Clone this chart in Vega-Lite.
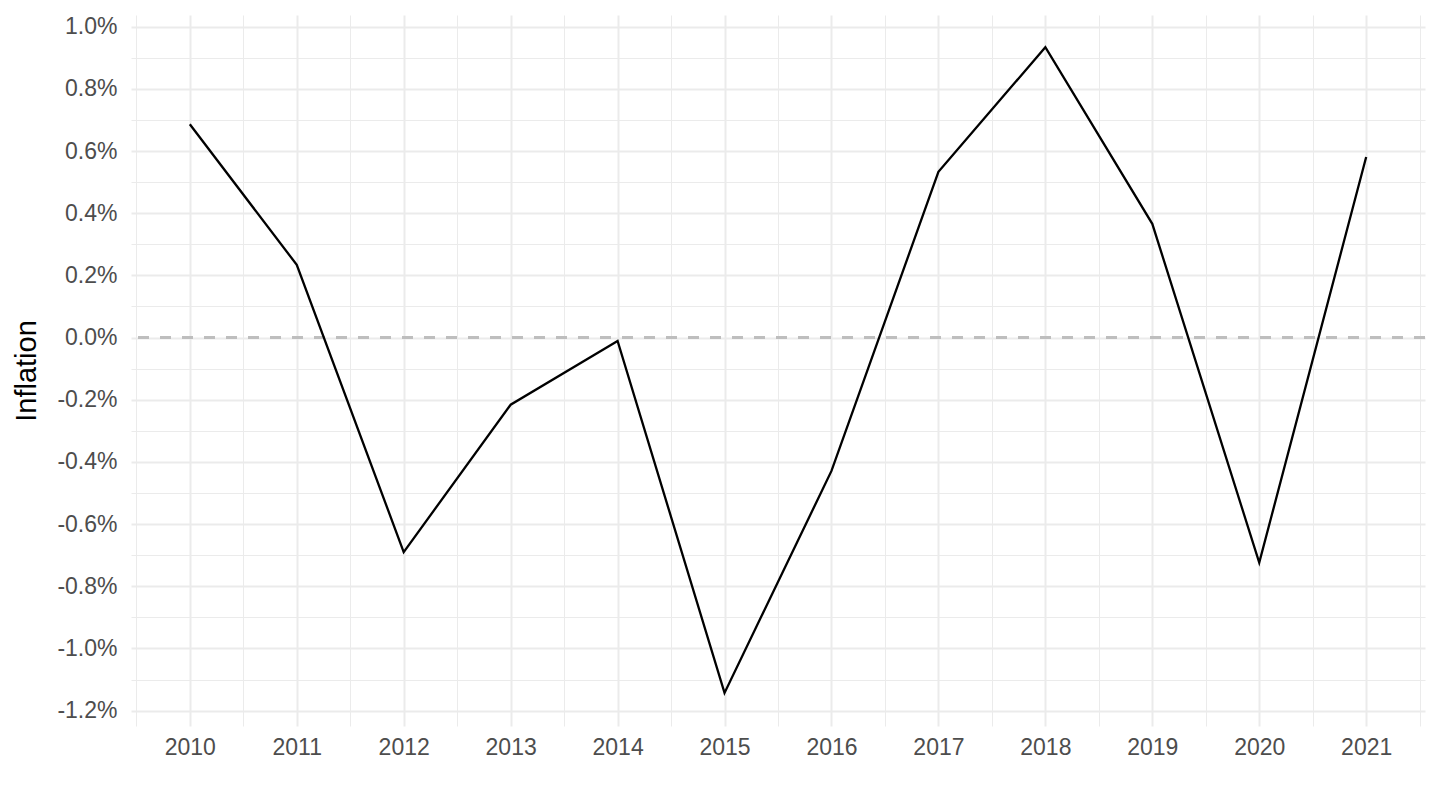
{
  "$schema": "https://vega.github.io/schema/vega-lite/v6.json",
  "width": 1294,
  "height": 711,
  "autosize": {"type": "none"},
  "padding": {"left": 131, "top": 15, "right": 15, "bottom": 84},
  "background": "white",
  "config": {
    "view": {"stroke": null},
    "font": "Liberation Sans",
    "axis": {
      "domain": false,
      "ticks": false,
      "grid": true,
      "gridColor": "#ebebeb",
      "labelColor": "#4d4d4d",
      "labelFont": "Liberation Sans",
      "labelFontSize": 23,
      "titleFont": "Liberation Sans",
      "titleFontWeight": "normal",
      "titleColor": "#000000",
      "titleFontSize": 29,
      "labelOverlap": false,
      "labelFlush": false
    }
  },
  "data": {
    "values": [
      {"year": 2010, "inflation": 0.686},
      {"year": 2011, "inflation": 0.234},
      {"year": 2012, "inflation": -0.690},
      {"year": 2013, "inflation": -0.216},
      {"year": 2014, "inflation": -0.011},
      {"year": 2015, "inflation": -1.143},
      {"year": 2016, "inflation": -0.429},
      {"year": 2017, "inflation": 0.533},
      {"year": 2018, "inflation": 0.934},
      {"year": 2019, "inflation": 0.366},
      {"year": 2020, "inflation": -0.724},
      {"year": 2021, "inflation": 0.581}
    ]
  },
  "layer": [
    {
      "mark": {"type": "rule", "color": "#bebebe", "strokeWidth": 2.7, "strokeDash": [11, 11]},
      "encoding": {
        "y": {
          "datum": 0,
          "type": "quantitative",
          "axis": {
            "title": "Inflation",
            "grid": true,
            "values": [-1.2, -1.1, -1.0, -0.9, -0.8, -0.7, -0.6, -0.5, -0.4, -0.3, -0.2, -0.1, 0, 0.1, 0.2, 0.3, 0.4, 0.5, 0.6, 0.7, 0.8, 0.9, 1.0],
            "labelExpr": "abs(round(datum.value * 10)) % 2 == 1 ? '' : replace(format(datum.value, '.1f'), '\u2212', '-') + '%'",
            "gridWidth": {"condition": {"test": "abs(round(datum.value * 10)) % 2 == 1", "value": 1}, "value": 2},
            "labelPadding": 14,
            "titlePadding": 15
          }
        }
      }
    },
    {
      "mark": {"type": "line", "color": "#000000", "strokeWidth": 2.3},
      "encoding": {
        "x": {
          "field": "year",
          "type": "quantitative",
          "scale": {"domain": [2009.45, 2021.55], "nice": false, "zero": false},
          "axis": {
            "title": null,
            "grid": true,
            "values": [2009.5, 2010, 2010.5, 2011, 2011.5, 2012, 2012.5, 2013, 2013.5, 2014, 2014.5, 2015, 2015.5, 2016, 2016.5, 2017, 2017.5, 2018, 2018.5, 2019, 2019.5, 2020, 2020.5, 2021, 2021.5],
            "labelExpr": "datum.value % 1 == 0 ? format(datum.value, 'd') : ''",
            "gridWidth": {"condition": {"test": "datum.value % 1 != 0", "value": 1}, "value": 2},
            "labelPadding": 10
          }
        },
        "y": {
          "field": "inflation",
          "type": "quantitative",
          "scale": {"domain": [-1.2495, 1.0376], "nice": false, "zero": false},
          "axis": {
            "title": "Inflation",
            "grid": true,
            "values": [-1.2, -1.1, -1.0, -0.9, -0.8, -0.7, -0.6, -0.5, -0.4, -0.3, -0.2, -0.1, 0, 0.1, 0.2, 0.3, 0.4, 0.5, 0.6, 0.7, 0.8, 0.9, 1.0],
            "labelExpr": "abs(round(datum.value * 10)) % 2 == 1 ? '' : replace(format(datum.value, '.1f'), '\u2212', '-') + '%'",
            "gridWidth": {"condition": {"test": "abs(round(datum.value * 10)) % 2 == 1", "value": 1}, "value": 2},
            "labelPadding": 14,
            "titlePadding": 15
          }
        }
      }
    }
  ]
}
